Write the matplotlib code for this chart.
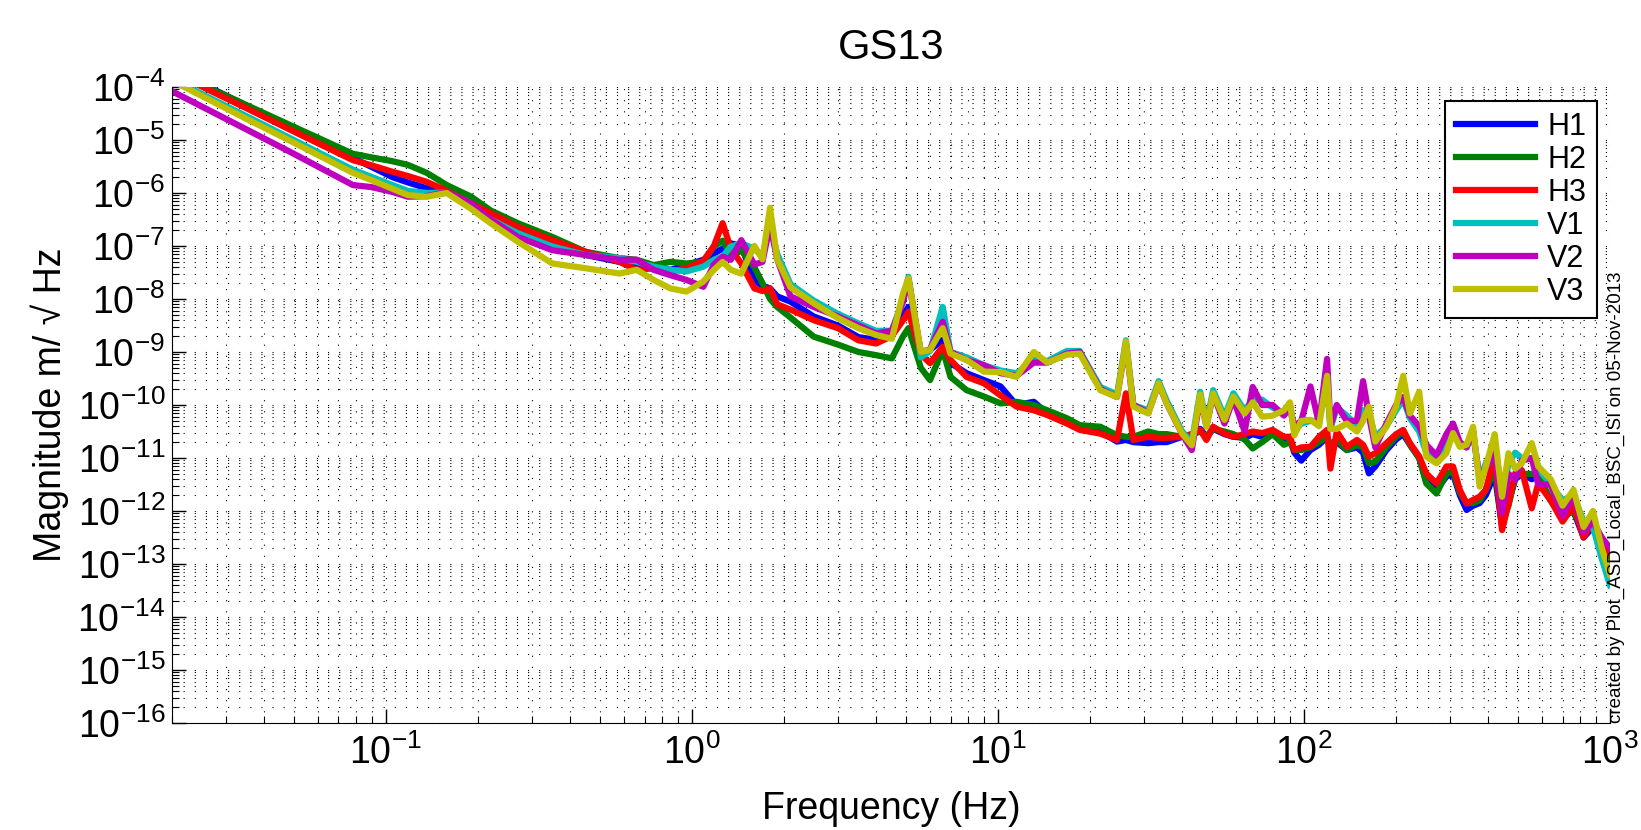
import numpy as np
import matplotlib.pyplot as plt
from matplotlib.ticker import LogLocator, NullFormatter

plt.rcParams['font.family'] = ['Liberation Sans', 'DejaVu Sans']
plt.rcParams['mathtext.fontset'] = 'custom'
plt.rcParams['mathtext.rm'] = 'Liberation Sans'
plt.rcParams['mathtext.it'] = 'Liberation Sans:italic'
plt.rcParams['mathtext.bf'] = 'Liberation Sans:bold'

# === Data (frequency in Hz, magnitudes as log10 values) ===
freq = [0.02, 0.035, 0.05, 0.078, 0.09, 0.105, 0.118, 0.136, 0.158, 0.19,
        0.22, 0.27, 0.35, 0.45, 0.58, 0.66, 0.75, 0.85, 0.96, 1.09,
        1.18, 1.26, 1.34, 1.45, 1.6, 1.7, 1.8, 1.9, 2.1, 2.5,
        3.0, 3.5, 4.0, 4.5, 4.9, 5.1, 5.6, 6.0, 6.6, 7.0,
        7.9, 9.0, 10.2, 11.5, 13.1, 14.5, 16.8, 18.5, 21.6, 24.5,
        26.2, 27.7, 31, 33.5, 35.6, 40, 43, 45.8, 48, 50.5,
        55, 58.8, 64, 68, 73, 79, 86, 90, 93, 98,
        105, 112, 119, 122, 128, 138, 149, 156, 163, 171,
        186, 200, 211, 222, 238, 251, 271, 292, 307, 323,
        340, 357, 375, 393, 420, 444, 466, 490, 515, 555,
        583, 640, 700, 760, 820, 880, 940, 1000]

h1 = [-3.66, -4.35, -4.79, -5.34, -5.51, -5.70, -5.80, -5.91, -5.98, -6.26,
      -6.42, -6.70, -6.95, -7.17, -7.30, -7.33, -7.39, -7.45, -7.36, -7.26,
      -7.14, -7.05, -6.95, -7.00, -7.65, -7.75, -7.80, -7.95, -8.05, -8.33,
      -8.50, -8.72, -8.77, -8.70, -8.30, -8.15, -9.10, -8.96, -8.77, -9.21,
      -9.40, -9.53, -9.65, -10.00, -9.94, -10.16, -10.31, -10.44, -10.50, -10.69,
      -10.66, -10.70, -10.72, -10.70, -10.70, -10.60, -10.60, -10.45, -10.60, -10.45,
      -10.55, -10.60, -10.62, -10.55, -10.60, -10.50, -10.65, -10.65, -10.90, -11.05,
      -10.85, -10.75, -10.60, -10.80, -10.70, -10.85, -10.80, -10.90, -11.29, -11.16,
      -10.85, -10.65, -10.55, -10.75, -11.00, -11.45, -11.60, -11.35, -11.30, -11.70,
      -11.98, -11.90, -11.85, -11.70, -11.30, -12.30, -11.85, -11.40, -11.30, -11.40,
      -11.35, -11.80, -12.10, -12.00, -12.50, -12.30, -12.70, -13.00]

h2 = [-3.70, -4.34, -4.75, -5.26, -5.33, -5.40, -5.47, -5.62, -5.85, -6.07,
      -6.33, -6.57, -6.83, -7.11, -7.23, -7.26, -7.36, -7.30, -7.33, -7.30,
      -7.01, -6.90, -7.17, -7.08, -7.40, -7.70, -8.00, -8.15, -8.35, -8.71,
      -8.86, -9.00, -9.06, -9.12, -8.70, -8.55, -9.30, -9.53, -8.96, -9.47,
      -9.72, -9.84, -9.97, -9.94, -10.00, -10.10, -10.25, -10.38, -10.41, -10.57,
      -10.60, -10.60, -10.50, -10.55, -10.55, -10.60, -10.55, -10.50, -10.60, -10.45,
      -10.50, -10.55, -10.65, -10.82, -10.70, -10.55, -10.75, -10.70, -10.85, -10.85,
      -10.80, -10.70, -10.60, -10.75, -10.65, -10.85, -10.75, -10.80, -11.10, -11.07,
      -10.80, -10.60, -10.50, -10.75, -11.00, -11.48, -11.67, -11.30, -11.25, -11.65,
      -11.85, -11.85, -11.80, -11.60, -11.20, -12.20, -11.90, -11.35, -11.30, -11.30,
      -11.30, -11.80, -12.10, -12.00, -12.40, -12.30, -12.70, -12.90]

h3 = [-3.72, -4.40, -4.84, -5.38, -5.48, -5.60, -5.68, -5.79, -5.96, -6.20,
      -6.38, -6.64, -6.89, -7.11, -7.30, -7.45, -7.42, -7.48, -7.42, -7.28,
      -7.00, -6.57, -7.05, -7.33, -7.80, -7.85, -7.80, -8.10, -8.20, -8.40,
      -8.55, -8.78, -8.84, -8.70, -8.40, -8.24, -9.05, -9.21, -8.90, -9.15,
      -9.47, -9.59, -9.82, -10.03, -10.10, -10.19, -10.35, -10.47, -10.54, -10.66,
      -9.78, -10.66, -10.60, -10.62, -10.62, -10.60, -10.55, -10.47, -10.66, -10.41,
      -10.54, -10.60, -10.55, -10.50, -10.53, -10.47, -10.60, -10.60, -10.85, -10.80,
      -10.79, -10.60, -10.47, -11.20, -10.50, -10.79, -10.66, -10.75, -10.97, -10.91,
      -10.72, -10.55, -10.47, -10.72, -10.97, -11.29, -11.48, -11.16, -11.16, -11.60,
      -11.86, -11.79, -11.73, -11.60, -10.95, -12.36, -11.86, -11.29, -11.23, -11.95,
      -11.48, -11.80, -12.20, -11.90, -12.50, -12.20, -12.60, -12.80]

v1 = [-3.85, -4.55, -5.00, -5.56, -5.70, -5.85, -5.96, -6.00, -5.99, -6.28,
      -6.50, -6.76, -7.01, -7.17, -7.23, -7.30, -7.39, -7.45, -7.48, -7.39,
      -7.26, -7.20, -7.01, -6.95, -7.05, -7.20, -6.60, -7.15, -7.72, -8.03,
      -8.28, -8.46, -8.60, -8.60, -8.00, -7.58, -9.10, -8.98, -8.15, -9.00,
      -9.10, -9.25, -9.35, -9.40, -9.15, -9.17, -8.98, -8.98, -9.66, -9.80,
      -8.78, -10.00, -10.10, -9.55, -9.92, -10.50, -10.70, -9.75, -10.35, -9.72,
      -10.22, -9.78, -10.10, -9.90, -9.90, -10.05, -10.15, -10.00, -10.50, -10.35,
      -10.30, -10.30, -9.60, -10.45, -10.05, -10.20, -10.40, -10.10, -10.15, -10.60,
      -10.40, -10.10, -9.90, -10.25, -10.50, -10.90, -11.00, -10.70, -10.50, -10.75,
      -10.80, -10.55, -11.40, -11.10, -10.85, -11.80, -11.10, -10.90, -11.00, -11.00,
      -11.20, -11.50, -11.80, -11.70, -12.20, -12.30, -12.90, -13.40]

v2 = [-4.08, -4.80, -5.26, -5.85, -5.89, -5.98, -6.07, -6.06, -5.98, -6.20,
      -6.50, -6.83, -7.08, -7.17, -7.26, -7.26, -7.45, -7.55, -7.64, -7.77,
      -7.35, -7.20, -7.26, -6.89, -7.35, -7.30, -6.60, -7.25, -7.95, -8.15,
      -8.33, -8.50, -8.65, -8.60, -8.05, -7.62, -9.00, -8.95, -8.43, -9.00,
      -9.15, -9.25, -9.40, -9.45, -9.20, -9.20, -9.03, -9.00, -9.70, -9.85,
      -8.85, -10.00, -10.15, -9.60, -9.97, -10.55, -10.85, -9.85, -10.40, -9.80,
      -10.35, -9.88, -10.50, -9.66, -10.00, -10.00, -10.20, -10.05, -10.40, -10.30,
      -9.65, -10.35, -9.13, -10.40, -10.00, -10.30, -10.30, -9.55, -10.20, -10.80,
      -10.35, -10.00, -9.85, -10.20, -10.40, -10.75, -10.95, -10.55, -10.35, -10.70,
      -10.80, -10.50, -11.40, -11.20, -10.90, -12.04, -11.30, -11.40, -11.05, -11.00,
      -11.50, -11.50, -12.10, -11.70, -12.40, -12.20, -12.50, -12.70]

v3 = [-3.88, -4.60, -5.05, -5.62, -5.76, -5.92, -6.04, -6.07, -6.00, -6.30,
      -6.57, -6.92, -7.33, -7.42, -7.52, -7.45, -7.64, -7.80, -7.86, -7.67,
      -7.45, -7.30, -7.45, -7.52, -7.00, -7.25, -6.28, -7.25, -7.78, -8.08,
      -8.36, -8.55, -8.68, -8.75, -7.89, -7.61, -9.00, -8.96, -8.55, -9.03,
      -9.15, -9.37, -9.38, -9.47, -9.00, -9.20, -9.05, -9.03, -9.72, -9.85,
      -8.80, -10.03, -10.16, -9.59, -9.97, -10.54, -10.76, -9.80, -10.41, -9.78,
      -10.28, -9.84, -10.16, -9.95, -10.22, -10.20, -10.10, -9.95, -10.57, -10.30,
      -10.28, -10.40, -9.45, -10.45, -10.45, -10.35, -10.50, -10.30, -10.03, -10.69,
      -10.41, -10.03, -9.45, -10.16, -9.75, -10.97, -11.10, -10.91, -10.53, -10.79,
      -10.75, -10.41, -11.54, -11.16, -10.55, -11.73, -10.91, -11.20, -11.10, -10.72,
      -11.16, -11.40, -11.90, -11.60, -12.30, -12.00, -12.70, -13.20]

labels = ["H1", "H2", "H3", "V1", "V2", "V3"]
series = [h1, h2, h3, v1, v2, v3]
colors = ["#0000ff", "#008000", "#ff0000", "#00bfbf", "#bf00bf", "#bfbf00"]

# === Plot ===
fig = plt.figure(figsize=(16.41, 8.3), dpi=100)
ax = fig.add_axes([0.1048, 0.1289, 0.8763, 0.7663])

for name, vals, c in zip(labels, series, colors):
    ax.loglog(freq, 10.0 ** np.array(vals), color=c, lw=4.5, label=name,
              solid_joinstyle="round")

ax.set_xlim(0.02, 1000)
ax.set_ylim(1e-16, 1e-4)

ax.xaxis.set_major_locator(LogLocator(base=10, numticks=20))
ax.yaxis.set_major_locator(LogLocator(base=10, numticks=20))
ax.xaxis.set_minor_locator(LogLocator(base=10, subs=np.arange(2, 10), numticks=200))
ax.yaxis.set_minor_locator(LogLocator(base=10, subs=np.arange(2, 10), numticks=200))
ax.xaxis.set_minor_formatter(NullFormatter())
ax.yaxis.set_minor_formatter(NullFormatter())

ax.grid(True, which="both", color="k", lw=0.8, linestyle=(0, (1, 9)))
ax.tick_params(which="major", direction="in", length=10, width=1, labelsize=27,
               top=False, right=False)
ax.tick_params(which="minor", direction="in", length=5, width=0.8,
               top=False, right=False)
ax.tick_params(axis="x", pad=8)
ax.tick_params(axis="y", pad=5)
ax.spines["top"].set_visible(False)
ax.spines["right"].set_visible(False)

ax.set_title("GS13", fontsize=30, pad=20)
ax.set_xlabel("Frequency (Hz)", fontsize=27, labelpad=14)
ax.set_ylabel("Magnitude m/ \u221a Hz", fontsize=27, labelpad=6)

leg = ax.legend(loc="upper right", bbox_to_anchor=(0.9732, 0.8783),
                bbox_transform=fig.transFigure, borderaxespad=0, fontsize=22,
                fancybox=False, framealpha=1, edgecolor="k", handlelength=2.6,
                handletextpad=0.4, labelspacing=0.1, borderpad=0.35)
leg.get_frame().set_linewidth(1.5)

fig.text(0.985, 0.1289, "created by Plot_ASD_Local_BSC_ISI on 05-Nov-2013",
         rotation=90, ha="center", va="bottom", fontsize=13.5)

fig.savefig("out.png", dpi=100)
